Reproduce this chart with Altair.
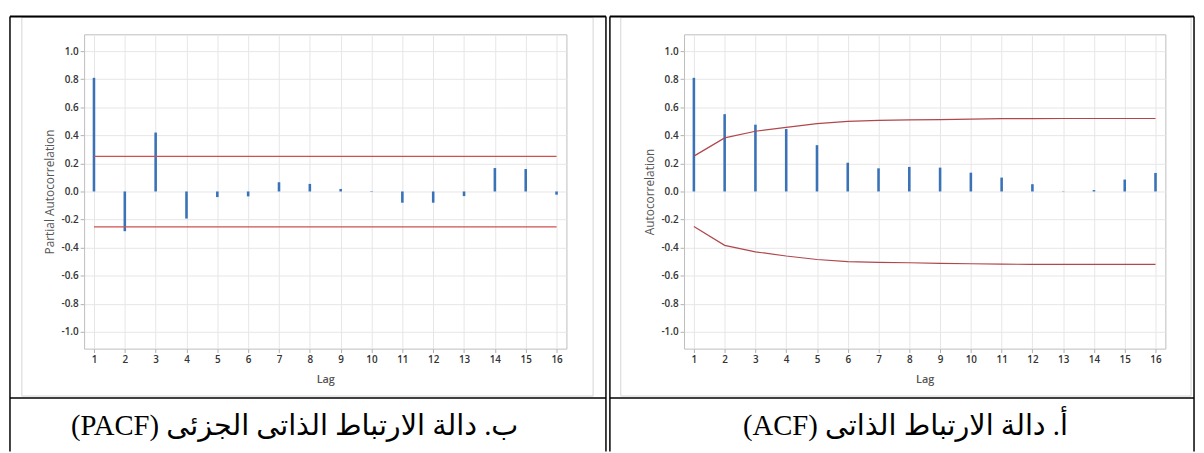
import altair as alt
import pandas as pd

# ---------------- data ----------------
lags = list(range(1, 17))
pacf_values = [0.81, -0.283, 0.42, -0.193, -0.04, -0.035, 0.066, 0.054,
               0.018, 0.003, -0.08, -0.08, -0.033, 0.167, 0.16, -0.023]
acf_values = [0.81, 0.551, 0.476, 0.445, 0.33, 0.205, 0.165, 0.175,
              0.17, 0.134, 0.099, 0.052, 0.002, 0.01, 0.085, 0.132]
acf_upper = [0.252, 0.382, 0.429, 0.457, 0.483, 0.50, 0.507, 0.51,
             0.512, 0.516, 0.519, 0.519, 0.52, 0.52, 0.52, 0.52]
acf_lower = [-0.25, -0.384, -0.43, -0.46, -0.485, -0.50, -0.505, -0.508,
             -0.512, -0.515, -0.518, -0.519, -0.52, -0.52, -0.52, -0.52]
pacf_limit_lags = [1, 16]
pacf_upper = [0.25, 0.25]
pacf_lower = [-0.252, -0.252]
y_ticks = [-1.0, -0.8, -0.6, -0.4, -0.2, 0.0, 0.2, 0.4, 0.6, 0.8, 1.0]
caption_pacf = "ب. دالة الارتباط الذاتى الجزئى (PACF)"
caption_acf = "أ. دالة الارتباط الذاتى (ACF)"

# ---------------- styling ----------------
BAR = "#3a72b8"
RED_P = "#cf5050"
RED_A = "#b0474d"
AXIS_FONT = "Segoe UI, Open Sans, sans-serif"
CAP_FONT = "Times New Roman, Liberation Serif, DejaVu Sans, serif"
W_L, W_R, H = 488, 487, 318
RLE, PDF = "\u202B", "\u202C"

x_scale = alt.Scale(domain=[0.68, 16.32], nice=False, zero=False)
y_scale = alt.Scale(domain=[-1.12, 1.12], nice=False, zero=False)

label_expr = ("datum.value < 0 ? '-' + format(-datum.value, '.1f') "
              ": format(datum.value, '.1f')")

X_AXIS = alt.Axis(values=lags, title="Lag", grid=True, gridColor="#e6e6e6",
                  domain=False, tickColor="#b0b0b0", tickSize=4,
                  labelPadding=2, labelFont=AXIS_FONT, labelFontSize=10,
                  labelFontWeight=600, labelColor="#333333",
                  labelOverlap=False, labelFlush=False,
                  titleFont=AXIS_FONT, titleFontSize=11,
                  titleFontWeight=600, titleColor="#555555",
                  titlePadding=9)


def y_axis(title):
    return alt.Axis(values=y_ticks, title=title, grid=True,
                    gridColor="#e6e6e6", domain=False, tickColor="#b0b0b0",
                    tickSize=4, labelPadding=2, labelExpr=label_expr,
                    labelOverlap=False, labelFlush=False,
                    labelFont=AXIS_FONT, labelFontSize=10, labelFontWeight=600,
                    labelColor="#333333", titleFont=AXIS_FONT,
                    titleFontSize=12, titleFontWeight="normal",
                    titleColor="#555555", titlePadding=5)


def hline(x0, x1, y, width=1.0, color="black"):
    return alt.Chart(alt.Data(values=[{}])).mark_rule(
        color=color, strokeWidth=width).encode(
        x=alt.value(x0), x2=alt.value(x1), y=alt.value(y))


def vline(x, y0, y1, width=1.0, color="black"):
    return alt.Chart(alt.Data(values=[{}])).mark_rule(
        color=color, strokeWidth=width).encode(
        x=alt.value(x), y=alt.value(y0), y2=alt.value(y1))


def frame(x0, x1, y0, y1):
    return alt.Chart(alt.Data(values=[{}])).mark_rect(
        fillOpacity=0, stroke="#d4d4d4", strokeWidth=1).encode(
        x=alt.value(x0), x2=alt.value(x1), y=alt.value(y0), y2=alt.value(y1))


def caption(text, cx, cy):
    return alt.Chart(alt.Data(values=[{}])).mark_text(
        font=CAP_FONT, fontSize=29, color="black", align="center",
        baseline="middle").encode(
        x=alt.value(cx), y=alt.value(cy), text=alt.value(RLE + text + PDF))


def panel(values, ytitle, limit_df, red, width, left_x, right_x,
          img_x0, img_x1, cap_text, cap_x):
    Y_AXIS = y_axis(ytitle)
    df = pd.DataFrame({"lag": lags, "value": values, "zero": 0.0})
    zero = alt.Chart(df).mark_rule(color="#c4c4c4", strokeWidth=1).encode(
        x=alt.X("lag:Q", scale=x_scale, axis=X_AXIS),
        y=alt.datum(0, scale=y_scale, axis=Y_AXIS))
    bars = alt.Chart(df).mark_rule(color=BAR, strokeWidth=2.6).encode(
        x=alt.X("lag:Q", scale=x_scale, axis=X_AXIS),
        y=alt.Y("value:Q", scale=y_scale, axis=Y_AXIS),
        y2="zero:Q")
    up = alt.Chart(limit_df).mark_line(color=red, strokeWidth=1.2).encode(
        x=alt.X("lag:Q", scale=x_scale, axis=X_AXIS),
        y=alt.Y("upper:Q", scale=y_scale, axis=Y_AXIS))
    lo = alt.Chart(limit_df).mark_line(color=red, strokeWidth=1.2).encode(
        x=alt.X("lag:Q", scale=x_scale, axis=X_AXIS),
        y=alt.Y("lower:Q", scale=y_scale, axis=Y_AXIS))
    deco = [
        frame(img_x0, img_x1, -17, 366),
        hline(left_x, right_x, -18, 2.0),
        hline(left_x, right_x, 368, 1.5),
        vline(left_x, -18, 422, 1.5),
        vline(right_x, -18, 422, 1.5),
        caption(cap_text, cap_x, 396),
    ]
    return alt.layer(zero, bars, up, lo, *deco).properties(
        width=width, height=H)


pacf_limits = pd.DataFrame({"lag": pacf_limit_lags, "upper": pacf_upper,
                            "lower": pacf_lower})
acf_limits = pd.DataFrame({"lag": lags, "upper": acf_upper,
                           "lower": acf_lower})

left = panel(pacf_values, "Partial Autocorrelation", pacf_limits, RED_P,
             W_L, -75, 528, -63, 515, caption_pacf, 213)
right = panel(acf_values, "Autocorrelation", acf_limits, RED_A,
              W_R, -75, 516, -64, 513, caption_acf, 224)

chart = alt.hconcat(left, right, spacing=0).properties(
    padding={"left": 0, "top": 4, "right": 0, "bottom": 0}
).configure_view(stroke="#bdbdbd", strokeWidth=1
).configure_axis(labelOverlap=False)

chart.save("out.html", embed_options={"renderer": "svg", "actions": False})
